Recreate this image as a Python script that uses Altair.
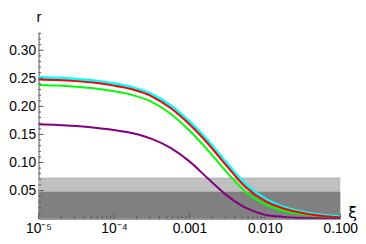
import altair as alt
import pandas as pd

# x values (xi), quarter-decade samples
xi = [1e-5, 1.778e-5, 3.162e-5, 5.623e-5, 1e-4, 1.778e-4, 3.162e-4, 5.623e-4,
      1e-3, 1.778e-3, 3.162e-3, 5.623e-3, 1e-2, 1.778e-2, 3.162e-2, 5.623e-2, 1e-1]

r_cyan = [0.251, 0.250, 0.248, 0.245, 0.240, 0.233, 0.221, 0.201, 0.172, 0.137,
          0.097, 0.060, 0.035, 0.020, 0.011, 0.006, 0.003]
r_red = [0.248, 0.247, 0.245, 0.242, 0.237, 0.230, 0.218, 0.197, 0.168, 0.133,
         0.093, 0.056, 0.032, 0.018, 0.010, 0.005, 0.002]
r_green = [0.238, 0.237, 0.235, 0.232, 0.227, 0.220, 0.208, 0.187, 0.157, 0.121,
           0.082, 0.047, 0.026, 0.014, 0.008, 0.004, 0.002]
r_purple = [0.168, 0.167, 0.165, 0.162, 0.158, 0.152, 0.142, 0.126, 0.102, 0.071,
            0.041, 0.019, 0.007, 0.003, 0.001, 0.0004, 0.0001]

y_major = [0.05, 0.10, 0.15, 0.20, 0.25, 0.30]
x_major = [1e-5, 1e-4, 1e-3, 1e-2, 1e-1]
x_labels = ["10⁻⁵", "10⁻⁴", "0.001", "0.010", "0.100"]

band_tops = [0.072, 0.048]
band_colors = ["#c0c0c0", "#808080"]

series = [
    ("cyan", r_cyan, "#00ffff", 3.5),
    ("green", r_green, "#00ff00", 2.0),
    ("red", r_red, "#ff0000", 2.0),
    ("purple", r_purple, "#800080", 2.0),
]

W, H = 306, 189
FS = 14
xscale = alt.Scale(type="log", domain=[1e-5, 0.1], nice=False)
yscale = alt.Scale(domain=[0, 0.332], nice=False)

x_minor = []
for d in x_major[:-1]:
    for m in range(2, 10):
        x_minor.append(d * m)
y_minor = [round(0.01 * i, 2) for i in range(1, 34) if i % 5 != 0]

label_list = "[" + ",".join("'" + s + "'" for s in x_labels) + "]"

x_axis = alt.Axis(
    values=x_major, grid=False, ticks=False, labelOverlap=False, labelFlush=False,
    labelExpr=label_list + "[round(log(datum.value)/LN10) + 5]",
    labelFont="Liberation Sans", labelFontSize=FS, labelColor="#000",
    labelPadding=3, domainColor="#555",
    title="ξ", titleFont="DejaVu Sans", titleFontSize=16, titleFontWeight="normal",
    titleAngle=0, titleX=W + 12, titleY=-6, titleAlign="center", titleBaseline="middle",
)
y_axis = alt.Axis(
    values=y_major, grid=False, ticks=False, labelOverlap=False, labelFlush=False,
    format=".2f",
    labelFont="Liberation Sans", labelFontSize=FS, labelColor="#000",
    labelPadding=3, domainColor="#555",
    title="r", titleFont="Liberation Sans", titleFontSize=15, titleFontWeight="normal",
    titleAngle=0, titleX=0, titleY=-8, titleAlign="center", titleBaseline="bottom",
)


def X(f):
    return alt.X(f, scale=xscale, axis=x_axis, title="ξ")


def Y(f):
    return alt.Y(f, scale=yscale, axis=y_axis, title="r")


bands = pd.DataFrame({
    "x": [xi[0]] * 2, "x2": [xi[-1]] * 2,
    "y": [0.0, 0.0], "y2": band_tops, "c": band_colors,
})

band_layer = alt.Chart(bands).mark_rect().encode(
    x=X("x:Q"), x2="x2:Q", y=Y("y:Q"), y2="y2:Q",
    color=alt.Color("c:N", scale=None),
)
band_edge = alt.Chart(bands.iloc[[0]]).mark_rule(color="#a8a8a8", strokeWidth=1).encode(
    x=X("x:Q"), x2="x2:Q", y=Y("y2:Q"),
)

layers = [band_layer, band_edge]
for name, vals, col, sw in series:
    df = pd.DataFrame({"xi": xi, "r": vals})
    layers.append(
        alt.Chart(df).mark_line(color=col, strokeWidth=sw, interpolate="monotone", clip=True).encode(
            x=X("xi:Q"), y=Y("r:Q")
        )
    )

# inward ticks (Mathematica style)
tick_col = "#555"
layers.append(alt.Chart(pd.DataFrame({"v": y_major})).mark_rule(color=tick_col, strokeWidth=1).encode(
    y=Y("v:Q"), x=alt.value(0), x2=alt.value(5)))
layers.append(alt.Chart(pd.DataFrame({"v": y_minor})).mark_rule(color=tick_col, strokeWidth=1).encode(
    y=Y("v:Q"), x=alt.value(0), x2=alt.value(2.5)))
layers.append(alt.Chart(pd.DataFrame({"v": x_major})).mark_rule(color=tick_col, strokeWidth=1).encode(
    x=X("v:Q"), y=alt.value(H), y2=alt.value(H - 5)))
layers.append(alt.Chart(pd.DataFrame({"v": x_minor})).mark_rule(color=tick_col, strokeWidth=1).encode(
    x=X("v:Q"), y=alt.value(H), y2=alt.value(H - 2.5)))

chart = alt.layer(*layers).properties(
    width=W, height=H, background="white",
    padding={"left": 0, "top": 0, "right": 0, "bottom": 0},
).configure_view(stroke=None).configure_axis(
    labelFont="Liberation Sans", labelFontSize=FS, labelOverlap=False
)

chart.save("out.html", embed_options={"renderer": "svg", "actions": False})
